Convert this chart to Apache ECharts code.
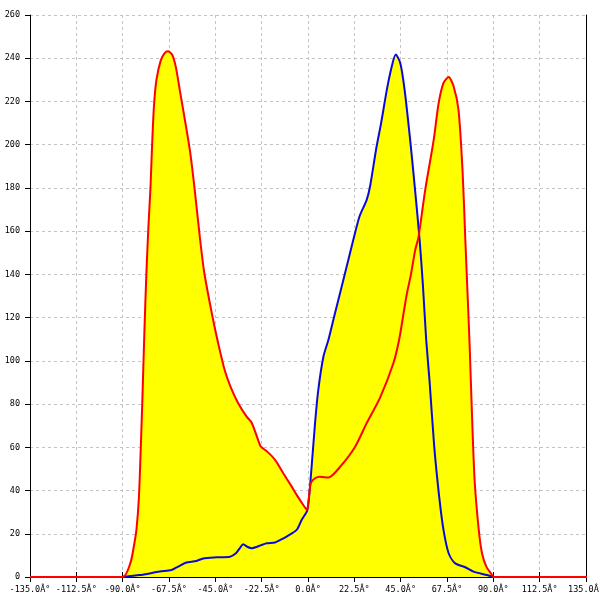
<!DOCTYPE html>
<html>
<head>
<meta charset="utf-8">
<script src="https://cdn.jsdelivr.net/npm/echarts@6/dist/echarts.min.js"></script>
<style>
html,body{margin:0;padding:0;background:#fff;}
#chart{width:600px;height:600px;}
</style>
</head>
<body>
<div id="chart"></div>
<script>
// x tick label suffix as shown in the reference (mis-encoded degree sign)
var xLabelSuffix = 'Â°';

// red curve (angle, count)
var redX = [-135, -90, -86.3, -84.6, -83.3, -82.1, -81.2, -80.4, -79.5, -78.5, -77.5, -76.5, -75.7, -74.8, -73.6, -71.5, -69.6, -68.0, -66.0, -64.2, -62.3, -57.4, -55.0, -52.5, -50.4, -46.4, -43.6, -40.4, -37.6, -33.9, -29.8, -27.4, -23.7, -22.9, -19.8, -16.0, -12.0, -7.9, -5.5, -2.3, -0.5, 1.3, 3.4, 5.8, 9.9, 15.6, 22.9, 28.5, 35.0, 41.5, 44.3, 46.4, 48.0, 50.0, 52.0, 53.7, 56.9, 61.0, 63.4, 65.8, 68.3, 70.7, 73.1, 75.1, 76.4, 77.2, 78.5, 79.6, 80.9, 82.9, 84.5, 86.6, 89.4, 90, 142];
var redY = [0, 0, 6.3, 14, 22, 37, 60, 83, 112, 140, 162, 180, 200, 218, 230, 239, 242.4, 243.2, 241.7, 236, 225.5, 197.7, 179, 157, 141, 120.5, 108, 95.5, 88, 80.4, 74.2, 71.5, 62, 60.3, 58, 54.2, 48, 41.8, 38, 33.3, 31, 43.4, 45.7, 46.4, 46, 51, 60.3, 71.2, 83, 99, 110, 122, 131, 140, 151, 157.5, 179, 202, 219, 228.6, 231.3, 227, 216, 187, 156, 137.5, 107, 76, 45, 22, 11, 4.8, 0.9, 0, 0];

// blue curve (angle, count)
var blueX = [-90, -81.7, -72.0, -66.3, -63.1, -59.4, -54.2, -50.9, -44.4, -37.9, -35.0, -33.0, -31.5, -29.5, -27.4, -22.5, -20.1, -16.0, -13.6, -10.4, -5.5, -3.1, -0.3, 1.5, 3.4, 5.0, 7.5, 10.0, 13.1, 18.0, 22.0, 25.0, 28.5, 30.2, 33.1, 35.5, 38.3, 40.7, 42.6, 44.8, 46.9, 49.6, 52.0, 54.2, 55.8, 57.4, 59.0, 61.3, 63.7, 65.8, 68.3, 71.5, 76.4, 80.4, 86.9, 90];
var blueY = [0, 0.9, 2.5, 3.2, 4.8, 6.6, 7.4, 8.6, 9.1, 9.4, 11, 13.5, 15.2, 14, 13.3, 14.8, 15.6, 16, 17.1, 18.7, 21.8, 26.4, 31, 48, 71, 86.6, 102, 110, 122, 140.6, 156, 166.8, 174.5, 181, 198, 210, 225.5, 236.3, 241.7, 237.8, 225.5, 202.3, 179, 156, 135, 109.7, 91, 60.3, 37.2, 21.8, 11, 6.3, 4.5, 2.5, 0.9, 0];

function pairs(xs, ys) {
  var out = [];
  for (var i = 0; i < xs.length; i++) out.push([xs[i], ys[i]]);
  return out;
}
var redData = pairs(redX, redY);
var blueData = pairs(blueX, blueY);

var FONT = 'DejaVu Sans Mono';
var chart = echarts.init(document.getElementById('chart'), null, {renderer: 'canvas'});
chart.setOption({
  animation: false,
  backgroundColor: '#ffffff',
  grid: {left: 30, right: 14, top: 15, bottom: 23, containLabel: false, outerBoundsMode: 'none'},
  xAxis: [{
    type: 'value', min: -135, max: 135, interval: 22.5,
    axisLine: {show: true, onZero: false, lineStyle: {color: '#000', width: 1}},
    axisTick: {show: true, length: 5, lineStyle: {color: '#000'}},
    axisLabel: {
      margin: 8, color: '#000', fontFamily: FONT, fontSize: 8.5,
      formatter: function (v) { return v.toFixed(1) + xLabelSuffix; }
    },
    splitLine: {show: true, lineStyle: {color: '#c4c4c4', type: [3, 3], width: 1}}
  }, {
    type: 'value', min: -135, max: 135, interval: 22.5, position: 'bottom',
    axisLine: {show: false},
    axisTick: {show: true, inside: true, length: 5, lineStyle: {color: '#000'}},
    axisLabel: {show: false},
    splitLine: {show: false}
  }],
  yAxis: [{
    type: 'value', min: 0, max: 260, interval: 20,
    axisLine: {show: true, onZero: false, lineStyle: {color: '#000', width: 1}},
    axisTick: {show: true, length: 5, lineStyle: {color: '#000'}},
    axisLabel: {margin: 10, color: '#000', fontFamily: FONT, fontSize: 8.5},
    splitLine: {show: true, lineStyle: {color: '#c4c4c4', type: [3, 3], width: 1}}
  }, {
    type: 'value', min: 0, max: 260, interval: 20, position: 'right',
    axisLine: {show: true, onZero: false, lineStyle: {color: '#000', width: 1}},
    axisTick: {show: false},
    axisLabel: {show: false},
    splitLine: {show: false}
  }],
  series: [
    {
      type: 'line', data: redData, smooth: 0.25, symbol: 'none',
      lineStyle: {width: 0, opacity: 0},
      areaStyle: {color: '#ffff00', opacity: 1}, z: 2
    },
    {
      type: 'line', data: blueData, smooth: 0.25, symbol: 'none',
      lineStyle: {width: 0, opacity: 0},
      areaStyle: {color: '#ffff00', opacity: 1}, z: 2
    },
    {
      type: 'line', data: blueData, smooth: 0.25, symbol: 'none',
      lineStyle: {width: 2, color: '#0a0ad8'}, z: 3
    },
    {
      type: 'line', data: redData, smooth: 0.25, symbol: 'none', clip: false,
      lineStyle: {width: 2, color: '#ff0000'}, z: 4
    }
  ]
});
</script>
</body>
</html>
